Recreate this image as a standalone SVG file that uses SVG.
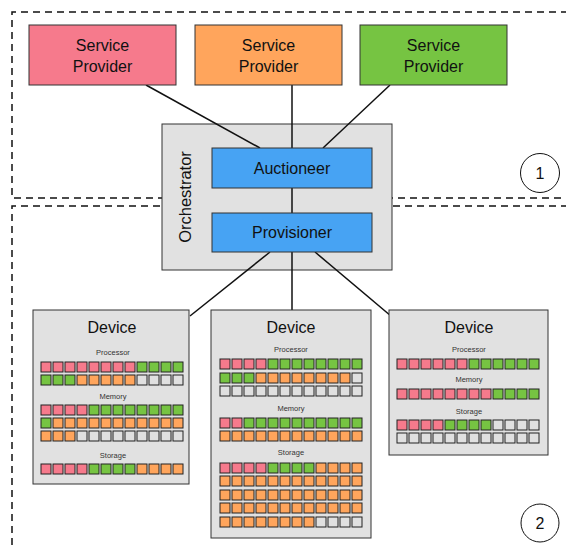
<svg xmlns="http://www.w3.org/2000/svg" xmlns:xlink="http://www.w3.org/1999/xlink" width="566" height="546" viewBox="0 0 566 546">
<style>
text{font-family:"Liberation Sans",Arial,sans-serif;fill:#111}
.t16{font-size:16px;text-anchor:middle}
.lbl{font-size:7.5px;text-anchor:middle;fill:#333}
.box{stroke:#333;stroke-width:1}
.dash{fill:none;stroke:#111;stroke-width:1.5;stroke-dasharray:7 5}
.conn line{stroke:#111;stroke-width:1.5}
.p{fill:#F67A8C}.o{fill:#FFA55C}.g{fill:#76C442}.e{fill:#E0E0E0}
use{stroke:#222;stroke-width:1}
</style>
<defs><rect id="sq" width="10" height="10"/></defs>
<rect width="566" height="546" fill="#fff"/>
<g id="regions">
<path class="dash" d="M580 12 H12 V198 H580"/>
<path class="dash" d="M580 206 H12 V560"/>
<circle cx="540" cy="173" r="19.5" fill="none" stroke="#111" stroke-width="1"/>
<text class="t16" x="540" y="179">1</text>
<circle cx="540" cy="523" r="19" fill="none" stroke="#111" stroke-width="1"/>
<text class="t16" x="540" y="529">2</text>
</g>
<g id="orchestrator">
<rect class="box" x="162" y="124" width="230" height="146" fill="#E1E1E1"/>
<text class="t16" transform="translate(191 197) rotate(-90)" style="font-size:16.5px">Orchestrator</text>
</g>
<g class="conn" id="connectors">
<line x1="146" y1="85" x2="260" y2="148"/>
<line x1="292" y1="85" x2="292" y2="148"/>
<line x1="390" y1="85" x2="323" y2="148"/>
<line x1="292" y1="188" x2="292" y2="213"/>
<line x1="270" y1="252" x2="190" y2="316"/>
<line x1="292" y1="252" x2="292" y2="310"/>
<line x1="315" y1="252" x2="391" y2="316"/>
</g>
<g id="sp1"><rect class="box" x="29" y="25" width="147" height="60" fill="#F67A8C"/><text class="t16" x="102.5" y="51">Service</text><text class="t16" x="102.5" y="72">Provider</text></g>
<g id="sp2"><rect class="box" x="195" y="25" width="147" height="60" fill="#FFA55C"/><text class="t16" x="268.5" y="51">Service</text><text class="t16" x="268.5" y="72">Provider</text></g>
<g id="sp3"><rect class="box" x="360" y="25" width="147" height="60" fill="#76C442"/><text class="t16" x="433.5" y="51">Service</text><text class="t16" x="433.5" y="72">Provider</text></g>
<g id="auctioneer"><rect class="box" x="212" y="148" width="160" height="40" fill="#47A3F3"/><text class="t16" x="292" y="174">Auctioneer</text></g>
<g id="provisioner"><rect class="box" x="212" y="213" width="160" height="39" fill="#47A3F3"/><text class="t16" x="292" y="238">Provisioner</text></g>
<g id="device1">
<rect class="box" x="33" y="310" width="156" height="174" fill="#E1E1E1"/>
<text class="t16" x="112" y="333">Device</text>
<text class="lbl" x="113" y="355">Processor</text>
<g class="p"><use href="#sq" x="41" y="362"/><use href="#sq" x="53" y="362"/><use href="#sq" x="65" y="362"/><use href="#sq" x="77" y="362"/><use href="#sq" x="89" y="362"/><use href="#sq" x="101" y="362"/><use href="#sq" x="113" y="362"/><use href="#sq" x="125" y="362"/></g>
<g class="g"><use href="#sq" x="137" y="362"/><use href="#sq" x="149" y="362"/><use href="#sq" x="161" y="362"/><use href="#sq" x="173" y="362"/></g>
<g class="g"><use href="#sq" x="41" y="375"/><use href="#sq" x="53" y="375"/><use href="#sq" x="65" y="375"/></g>
<g class="o"><use href="#sq" x="77" y="375"/><use href="#sq" x="89" y="375"/><use href="#sq" x="101" y="375"/><use href="#sq" x="113" y="375"/><use href="#sq" x="125" y="375"/></g>
<g class="e"><use href="#sq" x="137" y="375"/><use href="#sq" x="149" y="375"/><use href="#sq" x="161" y="375"/><use href="#sq" x="173" y="375"/></g>
<text class="lbl" x="113" y="399">Memory</text>
<g class="p"><use href="#sq" x="41" y="405"/><use href="#sq" x="53" y="405"/><use href="#sq" x="65" y="405"/><use href="#sq" x="77" y="405"/></g>
<g class="g"><use href="#sq" x="89" y="405"/><use href="#sq" x="101" y="405"/><use href="#sq" x="113" y="405"/><use href="#sq" x="125" y="405"/><use href="#sq" x="137" y="405"/><use href="#sq" x="149" y="405"/><use href="#sq" x="161" y="405"/><use href="#sq" x="173" y="405"/></g>
<g class="g"><use href="#sq" x="41" y="418"/></g>
<g class="o"><use href="#sq" x="53" y="418"/><use href="#sq" x="65" y="418"/><use href="#sq" x="77" y="418"/><use href="#sq" x="89" y="418"/><use href="#sq" x="101" y="418"/><use href="#sq" x="113" y="418"/><use href="#sq" x="125" y="418"/><use href="#sq" x="137" y="418"/><use href="#sq" x="149" y="418"/><use href="#sq" x="161" y="418"/><use href="#sq" x="173" y="418"/></g>
<g class="o"><use href="#sq" x="41" y="431"/><use href="#sq" x="53" y="431"/><use href="#sq" x="65" y="431"/></g>
<g class="e"><use href="#sq" x="77" y="431"/><use href="#sq" x="89" y="431"/><use href="#sq" x="101" y="431"/><use href="#sq" x="113" y="431"/><use href="#sq" x="125" y="431"/><use href="#sq" x="137" y="431"/><use href="#sq" x="149" y="431"/><use href="#sq" x="161" y="431"/><use href="#sq" x="173" y="431"/></g>
<text class="lbl" x="113" y="458">Storage</text>
<g class="p"><use href="#sq" x="41" y="464"/><use href="#sq" x="53" y="464"/><use href="#sq" x="65" y="464"/><use href="#sq" x="77" y="464"/></g>
<g class="g"><use href="#sq" x="89" y="464"/><use href="#sq" x="101" y="464"/><use href="#sq" x="113" y="464"/><use href="#sq" x="125" y="464"/></g>
<g class="o"><use href="#sq" x="137" y="464"/><use href="#sq" x="149" y="464"/><use href="#sq" x="161" y="464"/><use href="#sq" x="173" y="464"/></g>
</g>
<g id="device2">
<rect class="box" x="211" y="310" width="160" height="228" fill="#E1E1E1"/>
<text class="t16" x="291" y="333">Device</text>
<text class="lbl" x="291" y="352">Processor</text>
<g class="p"><use href="#sq" x="220" y="359"/><use href="#sq" x="232" y="359"/><use href="#sq" x="244" y="359"/><use href="#sq" x="256" y="359"/></g>
<g class="g"><use href="#sq" x="268" y="359"/><use href="#sq" x="280" y="359"/><use href="#sq" x="292" y="359"/><use href="#sq" x="304" y="359"/><use href="#sq" x="316" y="359"/><use href="#sq" x="328" y="359"/><use href="#sq" x="340" y="359"/><use href="#sq" x="352" y="359"/></g>
<g class="g"><use href="#sq" x="220" y="373"/><use href="#sq" x="232" y="373"/><use href="#sq" x="244" y="373"/></g>
<g class="o"><use href="#sq" x="256" y="373"/><use href="#sq" x="268" y="373"/><use href="#sq" x="280" y="373"/><use href="#sq" x="292" y="373"/><use href="#sq" x="304" y="373"/><use href="#sq" x="316" y="373"/><use href="#sq" x="328" y="373"/><use href="#sq" x="340" y="373"/></g>
<g class="e"><use href="#sq" x="352" y="373"/></g>
<g class="e"><use href="#sq" x="220" y="386"/><use href="#sq" x="232" y="386"/><use href="#sq" x="244" y="386"/><use href="#sq" x="256" y="386"/><use href="#sq" x="268" y="386"/><use href="#sq" x="280" y="386"/><use href="#sq" x="292" y="386"/><use href="#sq" x="304" y="386"/><use href="#sq" x="316" y="386"/><use href="#sq" x="328" y="386"/><use href="#sq" x="340" y="386"/><use href="#sq" x="352" y="386"/></g>
<text class="lbl" x="291" y="411">Memory</text>
<g class="p"><use href="#sq" x="220" y="418"/><use href="#sq" x="232" y="418"/></g>
<g class="g"><use href="#sq" x="244" y="418"/><use href="#sq" x="256" y="418"/><use href="#sq" x="268" y="418"/><use href="#sq" x="280" y="418"/><use href="#sq" x="292" y="418"/><use href="#sq" x="304" y="418"/><use href="#sq" x="316" y="418"/><use href="#sq" x="328" y="418"/><use href="#sq" x="340" y="418"/><use href="#sq" x="352" y="418"/></g>
<g class="o"><use href="#sq" x="220" y="431"/><use href="#sq" x="232" y="431"/><use href="#sq" x="244" y="431"/><use href="#sq" x="256" y="431"/><use href="#sq" x="268" y="431"/><use href="#sq" x="280" y="431"/><use href="#sq" x="292" y="431"/><use href="#sq" x="304" y="431"/><use href="#sq" x="316" y="431"/><use href="#sq" x="328" y="431"/><use href="#sq" x="340" y="431"/><use href="#sq" x="352" y="431"/></g>
<text class="lbl" x="291" y="455">Storage</text>
<g class="p"><use href="#sq" x="220" y="463"/><use href="#sq" x="232" y="463"/><use href="#sq" x="244" y="463"/><use href="#sq" x="256" y="463"/></g>
<g class="g"><use href="#sq" x="268" y="463"/><use href="#sq" x="280" y="463"/><use href="#sq" x="292" y="463"/><use href="#sq" x="304" y="463"/></g>
<g class="o"><use href="#sq" x="316" y="463"/><use href="#sq" x="328" y="463"/><use href="#sq" x="340" y="463"/><use href="#sq" x="352" y="463"/></g>
<g class="o"><use href="#sq" x="220" y="476"/><use href="#sq" x="232" y="476"/><use href="#sq" x="244" y="476"/><use href="#sq" x="256" y="476"/><use href="#sq" x="268" y="476"/><use href="#sq" x="280" y="476"/><use href="#sq" x="292" y="476"/><use href="#sq" x="304" y="476"/><use href="#sq" x="316" y="476"/><use href="#sq" x="328" y="476"/><use href="#sq" x="340" y="476"/><use href="#sq" x="352" y="476"/></g>
<g class="o"><use href="#sq" x="220" y="490"/><use href="#sq" x="232" y="490"/><use href="#sq" x="244" y="490"/><use href="#sq" x="256" y="490"/><use href="#sq" x="268" y="490"/><use href="#sq" x="280" y="490"/><use href="#sq" x="292" y="490"/><use href="#sq" x="304" y="490"/><use href="#sq" x="316" y="490"/><use href="#sq" x="328" y="490"/><use href="#sq" x="340" y="490"/><use href="#sq" x="352" y="490"/></g>
<g class="o"><use href="#sq" x="220" y="503"/><use href="#sq" x="232" y="503"/><use href="#sq" x="244" y="503"/><use href="#sq" x="256" y="503"/><use href="#sq" x="268" y="503"/><use href="#sq" x="280" y="503"/><use href="#sq" x="292" y="503"/><use href="#sq" x="304" y="503"/><use href="#sq" x="316" y="503"/><use href="#sq" x="328" y="503"/><use href="#sq" x="340" y="503"/><use href="#sq" x="352" y="503"/></g>
<g class="o"><use href="#sq" x="220" y="517"/><use href="#sq" x="232" y="517"/><use href="#sq" x="244" y="517"/><use href="#sq" x="256" y="517"/><use href="#sq" x="268" y="517"/><use href="#sq" x="280" y="517"/><use href="#sq" x="292" y="517"/><use href="#sq" x="304" y="517"/></g>
<g class="e"><use href="#sq" x="316" y="517"/><use href="#sq" x="328" y="517"/><use href="#sq" x="340" y="517"/><use href="#sq" x="352" y="517"/></g>
</g>
<g id="device3">
<rect class="box" x="389" y="310" width="159" height="145" fill="#E1E1E1"/>
<text class="t16" x="469" y="333">Device</text>
<text class="lbl" x="469" y="352">Processor</text>
<g class="p"><use href="#sq" x="397" y="359"/><use href="#sq" x="409" y="359"/><use href="#sq" x="421" y="359"/><use href="#sq" x="433" y="359"/><use href="#sq" x="445" y="359"/><use href="#sq" x="457" y="359"/></g>
<g class="g"><use href="#sq" x="469" y="359"/><use href="#sq" x="481" y="359"/><use href="#sq" x="493" y="359"/><use href="#sq" x="505" y="359"/><use href="#sq" x="517" y="359"/><use href="#sq" x="529" y="359"/></g>
<text class="lbl" x="469" y="382">Memory</text>
<g class="p"><use href="#sq" x="397" y="389"/><use href="#sq" x="409" y="389"/><use href="#sq" x="421" y="389"/><use href="#sq" x="433" y="389"/><use href="#sq" x="445" y="389"/><use href="#sq" x="457" y="389"/><use href="#sq" x="469" y="389"/><use href="#sq" x="481" y="389"/></g>
<g class="g"><use href="#sq" x="493" y="389"/><use href="#sq" x="505" y="389"/><use href="#sq" x="517" y="389"/><use href="#sq" x="529" y="389"/></g>
<text class="lbl" x="469" y="414">Storage</text>
<g class="p"><use href="#sq" x="397" y="420"/><use href="#sq" x="409" y="420"/><use href="#sq" x="421" y="420"/><use href="#sq" x="433" y="420"/></g>
<g class="g"><use href="#sq" x="445" y="420"/><use href="#sq" x="457" y="420"/><use href="#sq" x="469" y="420"/><use href="#sq" x="481" y="420"/></g>
<g class="e"><use href="#sq" x="493" y="420"/><use href="#sq" x="505" y="420"/><use href="#sq" x="517" y="420"/><use href="#sq" x="529" y="420"/></g>
<g class="e"><use href="#sq" x="397" y="433"/><use href="#sq" x="409" y="433"/><use href="#sq" x="421" y="433"/><use href="#sq" x="433" y="433"/><use href="#sq" x="445" y="433"/><use href="#sq" x="457" y="433"/><use href="#sq" x="469" y="433"/><use href="#sq" x="481" y="433"/><use href="#sq" x="493" y="433"/><use href="#sq" x="505" y="433"/><use href="#sq" x="517" y="433"/><use href="#sq" x="529" y="433"/></g>
</g>
</svg>
